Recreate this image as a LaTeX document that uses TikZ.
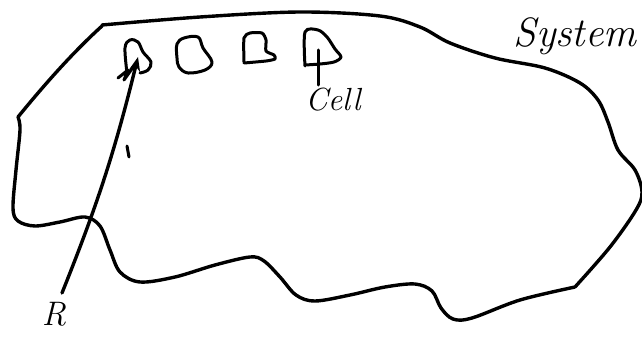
\documentclass[tikz,border=0pt]{standalone}
\usetikzlibrary{arrows.meta}
\begin{document}
\begin{tikzpicture}[x=1pt,y=-1pt,
  ink/.style={line width=3.4pt,line cap=round,line join=round},
  thin ink/.style={line width=3pt,line cap=round,line join=round},
  lbl/.style={inner sep=0pt,font=\itshape}]
\useasboundingbox (0,0) rectangle (642,337);
% system outline
\draw[ink] (102,26) .. controls (70,55) and (40,90) .. (18,117)
  plot[smooth,tension=0.55] coordinates {(18,117) (20,130) (16,170) (13,208) (18,221) (35,226) (60,222) (85,217) (100,226) (110,250) (120,272) (140,282) (175,277) (215,265) (250,257) (264,261) (280,277) (296,295) (315,301) (350,295) (385,287) (415,284) (432,291) (441,308) (453,319) (472,318) (520,300) (575,287)}
  plot[smooth,tension=0.55] coordinates {(575,287) (610,247) (636,210) (642,192) (635,170) (618,150) (608,122) (598,100) (580,83) (545,68) (495,58) (450,43) (420,27) (380,16) (300,12) (200,17) (102,25)};
% cells
\draw[thin ink] plot[smooth,tension=0.6] coordinates {(127,73) (125,48) (130,40) (138,42) (143,52) (151,62) (148,70) (140,73)};
\draw[thin ink] plot[smooth cycle,tension=0.6] coordinates {(177,58) (177,44) (184,38) (198,37) (203,48) (212,62) (205,70) (188,73) (179,67)};
\draw[thin ink] plot[smooth,tension=0.4] coordinates {(244,62) (244,38) (250,33) (262,33) (266,40) (266,51) (274,55) (275,59) (266,61) (244,63)};
\draw[thin ink] plot[smooth,tension=0.5] coordinates {(305,66) (305,32) (318,30) (327,37) (335,49) (341,57) (334,62) (320,64) (305,65)};
\coordinate (c4) at (318,50);
\coordinate (c4b) at (318,85);
\draw[thin ink] (c4) -- (c4b);
% labels
\node[lbl,font=\itshape\fontsize{41}{41}\selectfont] (sys) at (575,36) {System};
\node[lbl,font=\itshape\fontsize{32}{32}\selectfont] (cell) at (333,100) {Cell};
\node[lbl,font=\itshape\fontsize{34}{34}\selectfont] (r) at (54,314) {R};
% arrow from R to first cell
\coordinate (rt) at (62,293);
\coordinate (c1) at (138,57);
\draw[ink,-{Stealth[length=14pt,width=11pt]}] (rt) to[bend right=4] (c1);
\draw[thin ink] (118,78) -- (128,70) -- (124,80) -- (134,66);
\coordinate (tk1) at (127,146);
\coordinate (tk2) at (129,157);
\draw[thin ink] (tk1) -- (tk2);
\end{tikzpicture}
\end{document}
